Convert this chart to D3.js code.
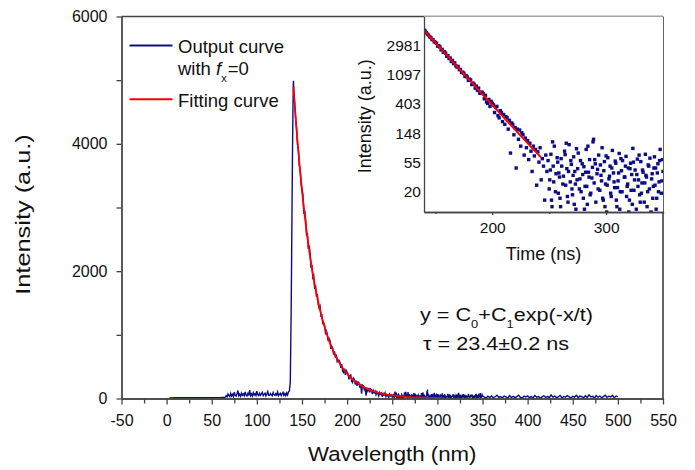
<!DOCTYPE html>
<html>
<head>
<meta charset="utf-8">
<script src="https://cdn.jsdelivr.net/npm/d3@7"></script>
<style>
  body { margin: 0; background: #fff; }
  svg text { font-family: "Liberation Sans", Arial, sans-serif; fill: #111; }
  .axis .domain, .axis line { stroke: #444; stroke-width: 1.3; }
  .frame { stroke: #444; stroke-width: 1.3; fill: none; }
</style>
</head>
<body>
<div id="chart_placeholder"></div>
<script>
// ---- data ----
// flat baseline before the signal
var baseTime = [3, 10, 20, 30, 40, 50, 60, 64];
var baseVal  = [10, 12, 11, 13, 12, 14, 15, 18];

// noisy background, 65..136 ns, 1 ns apart
var preStart = 65;
var preVal = [20, 45, 28, 70, 45, 30, 82, 40, 65, 33,
              100, 48, 38, 75, 125, 42, 68, 36, 85, 50,
              72, 44, 105, 52, 40, 80, 57, 130, 46, 73,
              38, 90, 54, 76, 47, 115, 59, 43, 82, 51,
              74, 98, 45, 66, 84, 39, 72, 108, 53, 48,
              80, 57, 41, 93, 60, 49, 76, 54, 102, 45,
              68, 81, 43, 72, 95, 50, 77, 46, 88, 55, 100, 120];

// rising edge
var riseTime = [137, 137.5, 138, 138.5, 139, 139.5, 140, 140.5];
var riseVal  = [250, 800, 1400, 2200, 3100, 3900, 4600, 4990];

// decay, 141..350 ns, 1 ns apart
var decayStart = 141;
var decayVal = [4830, 4610, 4380, 4240, 3990, 3910, 3660, 3590, 3370, 3300,
                3200, 2900, 2950, 2820, 2560, 2600, 2350, 2400, 2280, 2050,
                2100, 1900, 1930, 1720, 1780, 1600, 1640, 1480, 1420, 1450,
                1300, 1310, 1180, 1190, 1150, 1030, 1060, 1010, 900, 940,
                910, 780, 820, 790, 690, 740, 640, 690, 580, 600,
                600, 570, 480, 540, 430, 410, 470, 370, 440, 410,
                390, 300, 360, 370, 270, 250, 320, 300, 220, 280,
                200, 260, 250, 170, 230, 75, 210, 200, 140, 180,
                45, 170, 120, 165, 95, 150, 140, 70, 125, 90,
                115, 60, 105, 80, 40, 95, 68, 85, 25, 78,
                55, 90, 30, 62, 48, 15, 70, 40, 58, 22,
                42, 15, 110, 28, 8, 37, 64, 19, 33, 12,
                48, 26, 5, 71, 105, 17, 40, 9, 58, 22,
                35, 13, 26, 87, 44, 6, 31, 20, 52, 16,
                11, 39, 24, 95, 33, 18, 7, 46, 120, 60,
                14, 37, 22, 8, 50, 29, 16, 41, 12, 68,
                25, 9, 34, 19, 45, 4, 28, 57, 15, 23,
                38, 11, 62, 20, 7, 33, 48, 17, 26, 10,
                44, 21, 13, 55, 30, 8, 36, 24, 70, 14,
                19, 42, 6, 27, 35, 12, 50, 22, 9, 31,
                16, 45, 25, 11, 38, 20, 58, 7, 29, 40];

// in-between samples of the late decay, 250.5..349.5 ns
var halfStart = 250.5;
var halfVal = [30, 72, 12, 48, 95, 20, 6, 55, 38, 16,
               62, 9, 34, 80, 25, 44, 14, 100, 28, 51,
               18, 66, 40, 11, 30, 75, 22, 58, 8, 36,
               47, 24, 85, 13, 39, 60, 19, 32, 110, 27,
               52, 7, 43, 70, 21, 35, 90, 15, 56, 26,
               10, 64, 31, 48, 17, 82, 38, 23, 53, 12,
               29, 74, 20, 41, 58, 9, 33, 67, 24, 45,
               15, 53, 36, 88, 21, 42, 11, 61, 30, 18,
               56, 27, 39, 14, 72, 33, 20, 48, 63, 10,
               37, 24, 66, 45, 16, 52, 28, 85, 19, 60];

// tail, 352..500 ns, 2 ns apart
var tailStart = 352, tailStep = 2;
var tailVal = [22, 8, 35, 15, 41, 12, 27, 50, 18, 30,
               10, 38, 24, 6, 45, 19, 33, 14, 28, 52,
               17, 9, 36, 23, 40, 13, 29, 11, 47, 20,
               31, 7, 25, 43, 16, 34, 12, 55, 21, 38,
               14, 27, 48, 10, 32, 19, 44, 26, 8, 35,
               22, 50, 15, 37, 28, 11, 42, 18, 58, 24,
               33, 9, 46, 20, 39, 13, 30, 52, 17, 36,
               25, 48, 12, 40, 30];

// fitting curve
var fitTime = [140.5, 141, 144, 147, 150, 153, 156, 159, 162, 165, 168, 171, 174, 177, 180,
               185, 190, 195, 200, 205, 210, 215, 220, 225, 230, 235, 240, 243,
               250, 260, 270, 280, 290, 300, 307];
var fitVal  = [4900, 4794, 4218, 3711, 3265, 2873, 2528, 2224, 1957, 1722, 1515, 1333, 1173, 1033, 909,
               734, 594, 480, 388, 314, 254, 206, 167, 135, 110, 89, 73, 64,
               49, 33, 22, 15.5, 11, 8, 7];
var insetFitEnd = 243;

// ticks
var xMajor = [-50, 0, 50, 100, 150, 200, 250, 300, 350, 400, 450, 500, 550];
var xMinor = [-25, 25, 75, 125, 175, 225, 275, 325, 375, 425, 475, 525];
var yMajor = [0, 2000, 4000, 6000];
var yMinor = [1000, 3000, 5000];
var insetXMajor = [200, 300];
var insetXMinor = [150, 250, 350];
var insetYExp = [3, 4, 5, 6, 7, 8];
var insetYLabels = ["20", "55", "148", "403", "1097", "2981"];

var blue = "#0c0c86", red = "#ff0000";

// ---- build series ----
var data = [];
baseTime.forEach(function(t, i) { data.push({t: t, v: baseVal[i]}); });
preVal.forEach(function(v, i) { data.push({t: preStart + i, v: v}); });
riseTime.forEach(function(t, i) { data.push({t: t, v: riseVal[i]}); });
decayVal.forEach(function(v, i) { data.push({t: decayStart + i, v: v}); });
halfVal.forEach(function(v, i) { data.push({t: halfStart + i, v: v}); });
tailVal.forEach(function(v, i) { data.push({t: tailStart + i * tailStep, v: v}); });
data.sort(function(a, b) { return a.t - b.t; });
var fit = fitTime.map(function(t, i) { return {t: t, v: fitVal[i]}; });

var margin = {top: 16.5, right: 32, bottom: 71.5, left: 121.5},
    width = 695 - (margin.left + margin.right),
    height = 470 - (margin.top + margin.bottom);

var x = d3.scaleLinear().domain([-50, 550]).range([0, width]);
var y = d3.scaleLinear().domain([0, 6000]).range([height, 0]);
var plain = function(d) { return String(d); };

var svg = d3.select("#chart_placeholder")
  .append("svg")
  .attr("width", 695)
  .attr("height", 470)
  .append("g")
  .attr("transform", "translate(" + margin.left + "," + margin.top + ")");

// main curves
var line = d3.line()
  .x(function(d) { return x(d.t); })
  .y(function(d) { return y(d.v); });

svg.append("path")
  .datum(data)
  .attr("fill", "none")
  .attr("stroke", blue)
  .attr("stroke-width", 1.4)
  .attr("d", line);

svg.append("path")
  .datum(fit)
  .attr("fill", "none")
  .attr("stroke", red)
  .attr("stroke-width", 1.8)
  .attr("d", line.curve(d3.curveMonotoneX));

// axes
svg.append("g").attr("class", "axis")
  .attr("transform", "translate(0," + height + ")")
  .call(d3.axisBottom(x).tickValues(xMinor).tickFormat("").tickSize(5).tickSizeOuter(0));
svg.append("g").attr("class", "axis")
  .attr("transform", "translate(0," + height + ")")
  .call(d3.axisBottom(x).tickValues(xMajor).tickFormat(plain).tickSize(6).tickPadding(10).tickSizeOuter(0))
  .selectAll("text").style("font-size", "16px");

svg.append("g").attr("class", "axis")
  .call(d3.axisLeft(y).tickValues(yMinor).tickFormat("").tickSize(5).tickSizeOuter(0));
svg.append("g").attr("class", "axis")
  .call(d3.axisLeft(y).tickValues(yMajor).tickFormat(plain).tickSize(5).tickPadding(9).tickSizeOuter(0))
  .selectAll("text").style("font-size", "16px");

svg.append("line").attr("class", "frame")
  .attr("x1", 0).attr("x2", width).attr("y1", 0).attr("y2", 0);
svg.append("line").attr("class", "frame").style("stroke", "#111")
  .attr("x1", width).attr("x2", width).attr("y1", 0).attr("y2", height);

// axis titles
svg.append("text")
  .attr("transform", "translate(" + x(250) + "," + (height + 62) + ") scale(1.14,1)")
  .attr("text-anchor", "middle")
  .style("font-size", "19.5px")
  .text("Wavelength (nm)");

svg.append("text")
  .attr("transform", "translate(-92,"  + (height / 2 + 7) + ") rotate(-90) scale(1.3,1)")
  .attr("text-anchor", "middle")
  .style("font-size", "19.5px")
  .text("Intensity (a.u.)");

// legend
var legend = svg.append("g").attr("transform", "translate(8,29)");
legend.append("line").attr("x1", 0).attr("x2", 43).attr("y1", 0).attr("y2", 0)
  .attr("stroke", blue).attr("stroke-width", 2);
legend.append("text").attr("x", 48.5).attr("y", 7.5)
  .style("font-size", "18.5px").text("Output curve");
var w = legend.append("text").attr("x", 48.5).attr("y", 29.5).style("font-size", "18.5px");
w.append("tspan").text("with ");
w.append("tspan").style("font-style", "italic").text("f");
w.append("tspan").attr("dy", 7).style("font-size", "11px").text("x");
w.append("tspan").attr("dx", 1).attr("dy", -7).text("=0");
legend.append("line").attr("x1", 0).attr("x2", 43).attr("y1", 53.8).attr("y2", 53.8)
  .attr("stroke", red).attr("stroke-width", 2);
legend.append("text").attr("x", 48.5).attr("y", 61.2)
  .style("font-size", "18.5px").text("Fitting curve");

// equation
var eq = svg.append("text")
  .attr("transform", "translate(298.5,304.5) scale(1.17,1)")
  .style("font-size", "18.5px");
eq.append("tspan").text("y = C");
eq.append("tspan").attr("dy", 7).style("font-size", "11px").text("0");
eq.append("tspan").attr("dy", -7).text("+C");
eq.append("tspan").attr("dy", 7).style("font-size", "11px").text("1");
eq.append("tspan").attr("dy", -7).text("exp(-x/t)");

svg.append("text")
  .attr("transform", "translate(301.5,333.5) scale(1.17,1)")
  .style("font-size", "18.5px")
  .text("\u03c4 = 23.4\u00b10.2 ns");

// ---- inset ----
var inset = {left: 302.5, width: width - 302.5, height: 195.5};
var xi = d3.scaleLinear().domain([140, 350]).range([0, inset.width]);
var yi = d3.scaleLog().base(Math.E).domain([10, 8000]).range([inset.height, 0]);

var ig = svg.append("g").attr("transform", "translate(" + inset.left + ",0)");
ig.append("rect").attr("width", inset.width).attr("height", inset.height).attr("fill", "#fff");

ig.append("clipPath").attr("id", "insetClip")
  .append("rect").attr("width", inset.width).attr("height", inset.height);

var pts = ig.append("g").attr("clip-path", "url(#insetClip)");
pts.selectAll("rect")
  .data(data.filter(function(d) { return d.t >= 139 && d.v > 0; }))
  .enter().append("rect")
  .attr("x", function(d) { return xi(d.t) - 1.7; })
  .attr("y", function(d) { return yi(d.v) - 1.7; })
  .attr("width", 3.4)
  .attr("height", 3.4)
  .attr("fill", blue);

pts.append("path")
  .datum(fit.filter(function(d) { return d.t <= insetFitEnd; }))
  .attr("fill", "none")
  .attr("stroke", red)
  .attr("stroke-width", 2)
  .attr("d", d3.line()
    .x(function(d) { return xi(d.t); })
    .y(function(d) { return yi(d.v); }));

ig.append("g").attr("class", "axis")
  .attr("transform", "translate(0," + inset.height + ")")
  .call(d3.axisBottom(xi).tickValues(insetXMinor).tickFormat("").tickSize(2).tickSizeOuter(0));
ig.append("g").attr("class", "axis")
  .attr("transform", "translate(0," + inset.height + ")")
  .call(d3.axisBottom(xi).tickValues(insetXMajor).tickFormat(plain).tickSize(3).tickPadding(7).tickSizeOuter(0))
  .selectAll("text").style("font-size", "15.5px");

ig.append("g").attr("class", "axis")
  .call(d3.axisLeft(yi)
    .tickValues(insetYExp.map(function(e) { return Math.exp(e); }))
    .tickFormat(function(d, i) { return insetYLabels[i]; })
    .tickSize(0).tickPadding(3).tickSizeOuter(0))
  .selectAll("text").style("font-size", "15.5px");

ig.append("text")
  .attr("x", xi(245)).attr("y", inset.height + 48)
  .attr("text-anchor", "middle")
  .style("font-size", "18px")
  .text("Time (ns)");

ig.append("text")
  .attr("transform", "translate(-53," + (inset.height / 2 + 2) + ") rotate(-90)")
  .attr("text-anchor", "middle")
  .style("font-size", "18px")
  .text("Intensity (a.u.)");
</script>
</body>
</html>
